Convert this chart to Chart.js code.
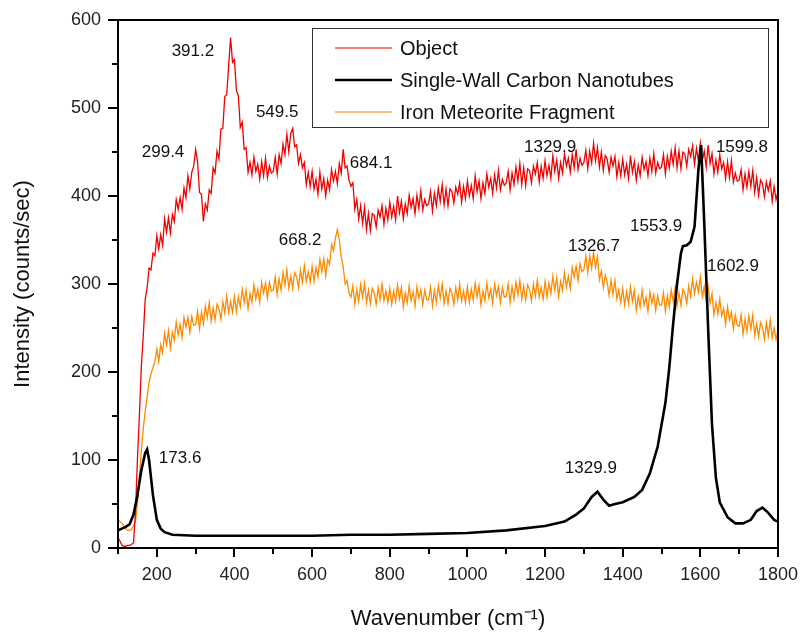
<!DOCTYPE html>
<html>
<head>
<meta charset="utf-8">
<script src="https://cdn.jsdelivr.net/npm/chart.js@4/dist/chart.umd.min.js"></script>
<style>
  html, body { margin: 0; padding: 0; background: #fff; }
  #wrap { width: 804px; height: 636px; }
</style>
</head>
<body>
<div id="wrap"><canvas id="grafica" width="804" height="636"></canvas></div>
<script>
const gridStart = 100;
const gridStep = 5;

const objectValues = [
  12, 8, 3, 2, 2, 3, 3, 4, 6, 40, 100, 150, 205, 240, 282, 296, 318, 316, 335, 332,
  355, 340, 356, 344, 374, 359, 375, 358, 379, 371, 396, 385, 398, 385, 409, 398, 423, 408, 427, 434,
  453, 438, 404, 402, 371, 391, 384, 407, 403, 432, 426, 451, 442, 476, 477, 513, 515, 548, 580, 552,
  555, 520, 514, 478, 484, 453, 455, 427, 438, 424, 444, 428, 436, 419, 439, 423, 443, 421, 434, 426,
  428, 444, 425, 447, 437, 459, 447, 470, 450, 471, 477, 456, 458, 437, 447, 432, 438, 413, 427, 411,
  428, 408, 419, 402, 427, 408, 420, 400, 418, 407, 430, 417, 428, 414, 437, 426, 453, 432, 434, 418,
  411, 415, 385, 396, 374, 389, 369, 387, 362, 380, 361, 380, 378, 365, 384, 376, 389, 368, 386, 373,
  393, 376, 388, 373, 400, 381, 394, 374, 391, 380, 401, 387, 397, 380, 401, 386, 406, 384, 396, 389,
  391, 405, 383, 403, 389, 409, 394, 413, 390, 408, 389, 408, 405, 392, 410, 402, 415, 393, 411, 397,
  417, 400, 412, 397, 423, 405, 417, 397, 415, 403, 425, 410, 420, 403, 424, 409, 429, 407, 419, 412,
  415, 428, 407, 426, 413, 433, 417, 437, 413, 432, 412, 431, 429, 415, 434, 425, 438, 416, 434, 420,
  440, 423, 435, 420, 446, 428, 441, 420, 438, 426, 448, 434, 443, 427, 447, 432, 453, 430, 443, 435,
  438, 452, 431, 451, 438, 460, 440, 455, 433, 450, 429, 446, 442, 427, 444, 434, 445, 422, 438, 423,
  442, 424, 436, 420, 446, 427, 439, 418, 435, 423, 444, 430, 439, 423, 443, 428, 448, 426, 438, 431,
  433, 447, 425, 445, 432, 451, 436, 455, 432, 451, 431, 450, 448, 434, 453, 445, 457, 436, 454, 440,
  460, 440, 451, 433, 458, 437, 448, 425, 441, 427, 447, 431, 438, 420, 439, 421, 440, 416, 426, 417,
  418, 430, 407, 425, 410, 428, 411, 429, 404, 421, 401, 418, 414, 399, 416, 406, 417, 394, 411, 396,
  405
];

const ironValues = [
  32, 30, 28, 25, 22, 20, 20, 21, 26, 30, 50, 80, 110, 135, 155, 172, 188, 198, 205, 212,
  226, 212, 231, 222, 244, 231, 247, 227, 245, 236, 257, 242, 254, 239, 262, 251, 262, 245, 263, 253,
  254, 269, 249, 268, 255, 275, 262, 279, 258, 273, 259, 277, 272, 260, 280, 267, 286, 268, 280, 268,
  286, 269, 285, 274, 294, 279, 293, 272, 289, 279, 299, 283, 294, 279, 302, 290, 301, 284, 302, 292,
  293, 308, 288, 306, 293, 313, 299, 316, 295, 309, 295, 313, 308, 296, 316, 302, 321, 303, 314, 302,
  320, 303, 319, 308, 328, 314, 329, 309, 328, 322, 345, 338, 352, 362, 350, 330, 320, 300, 304, 290,
  285, 298, 277, 294, 280, 299, 285, 301, 279, 293, 278, 295, 290, 277, 296, 282, 300, 281, 292, 279,
  295, 277, 292, 280, 299, 283, 296, 274, 290, 279, 298, 281, 291, 275, 297, 284, 294, 276, 293, 282,
  282, 296, 275, 293, 279, 298, 284, 300, 278, 292, 278, 295, 290, 277, 296, 282, 300, 281, 292, 279,
  297, 279, 294, 282, 301, 285, 298, 276, 292, 281, 301, 284, 294, 278, 300, 287, 297, 279, 296, 285,
  286, 300, 279, 297, 283, 302, 288, 304, 283, 297, 282, 299, 294, 281, 300, 286, 304, 285, 296, 283,
  303, 285, 301, 289, 309, 293, 307, 286, 303, 293, 313, 297, 309, 295, 319, 308, 320, 304, 323, 314,
  316, 332, 313, 332, 318, 336, 319, 331, 305, 315, 296, 310, 302, 287, 304, 288, 304, 283, 293, 279,
  295, 276, 291, 278, 297, 280, 293, 270, 286, 274, 293, 276, 285, 269, 291, 278, 288, 270, 287, 276,
  276, 290, 269, 287, 274, 293, 280, 296, 275, 290, 276, 294, 290, 278, 298, 286, 306, 289, 302, 291,
  308, 286, 297, 281, 297, 278, 289, 265, 279, 266, 283, 264, 272, 254, 274, 259, 268, 249, 265, 253,
  252, 265, 243, 260, 246, 264, 249, 265, 242, 255, 240, 256, 251, 237, 256, 241, 259, 239, 250, 237,
  248
];

const swcntX = [100, 110, 120, 130, 140, 150, 160, 170, 175, 180, 190, 200, 210, 220, 240,
  300, 400, 500, 600, 700, 800, 900, 1000, 1100, 1200, 1250, 1280, 1300, 1320, 1335,
  1350, 1365, 1380, 1400, 1430, 1450, 1470, 1490, 1510, 1520, 1530, 1540, 1550, 1555,
  1565, 1575, 1585, 1595, 1602, 1610, 1620, 1630, 1640, 1650, 1670, 1690, 1710, 1730,
  1745, 1760, 1775, 1790, 1800];
const swcntValues = [20, 22, 24, 27, 38, 60, 88, 108, 112, 100, 60, 32, 22, 18, 15,
  14, 14, 14, 14, 15, 15, 16, 17, 20, 25, 30, 38, 45, 58, 64,
  55, 48, 50, 52, 58, 66, 85, 115, 165, 205, 255, 300, 335, 343,
  344, 348, 365, 430, 458, 370, 250, 140, 80, 52, 35, 28, 28, 32,
  42, 46, 40, 32, 30];

const seriesNames = ['Object', 'Single-Wall Carbon Nanotubes', 'Iron Meteorite Fragment'];
const seriesColors = ['#f00000', '#000000', '#ff8a00'];

// peak labels: [text, x, y]
const peakLabels = [
  ['391.2', 293, 564], ['299.4', 216, 450], ['549.5', 510, 495], ['684.1', 752, 437],
  ['1329.9', 1213, 455], ['1599.8', 1707, 455], ['668.2', 569, 350], ['1326.7', 1326, 343],
  ['1553.9', 1486, 366], ['1602.9', 1684, 320], ['173.6', 260, 102], ['1329.9', 1318, 91]
];

function toPoints(xs, ys) {
  return ys.map(function (v, i) { return { x: xs[i], y: v }; });
}
const gridX = objectValues.map(function (v, i) { return gridStart + i * gridStep; });

const FONT = "'Liberation Sans', Arial, sans-serif";

const frameAndLabels = {
  id: 'frameAndLabels',
  afterDatasetsDraw: function (chart) {
    const ctx = chart.ctx;
    const a = chart.chartArea;
    const sx = chart.scales.x, sy = chart.scales.y;
    ctx.save();
    // box round the plot
    ctx.strokeStyle = '#000';
    ctx.lineWidth = 2;
    ctx.strokeRect(a.left, a.top, a.right - a.left, a.bottom - a.top);

    // outward tick marks, long on labelled values
    ctx.beginPath();
    for (let v = 100; v <= 1800; v += 100) {
      const px = Math.round(sx.getPixelForValue(v));
      ctx.moveTo(px, a.bottom);
      ctx.lineTo(px, a.bottom + (v % 200 === 0 ? 9 : 6));
    }
    for (let v = 0; v <= 600; v += 50) {
      const py = Math.round(sy.getPixelForValue(v));
      ctx.moveTo(a.left, py);
      ctx.lineTo(a.left - (v % 100 === 0 ? 10 : 6), py);
    }
    ctx.stroke();

    // peak labels
    ctx.fillStyle = '#111';
    ctx.font = '17px ' + FONT;
    ctx.textAlign = 'center';
    ctx.textBaseline = 'middle';
    peakLabels.forEach(function (p) {
      ctx.fillText(p[0], sx.getPixelForValue(p[1]), sy.getPixelForValue(p[2]));
    });

    // legend box
    const lx = 312, ly = 28, lw = 456, lh = 99;
    ctx.fillStyle = '#fff';
    ctx.fillRect(lx, ly, lw, lh);
    ctx.strokeStyle = '#333';
    ctx.lineWidth = 1;
    ctx.strokeRect(lx + 0.5, ly + 0.5, lw, lh);
    ctx.font = '20px ' + FONT;
    ctx.textAlign = 'left';
    seriesNames.forEach(function (name, i) {
      const yy = ly + 20 + i * 32;
      ctx.strokeStyle = seriesColors[i];
      ctx.lineWidth = i === 1 ? 2.5 : 1;
      ctx.beginPath();
      ctx.moveTo(lx + 23, yy);
      ctx.lineTo(lx + 80, yy);
      ctx.stroke();
      ctx.fillStyle = '#111';
      ctx.fillText(name, lx + 88, yy + 1);
    });
    ctx.restore();
  }
};

new Chart(document.getElementById('grafica').getContext('2d'), {
  type: 'line',
  data: {
    datasets: [
      {
        label: seriesNames[1],
        data: toPoints(swcntX, swcntValues),
        borderColor: seriesColors[1],
        borderWidth: 2.6,
        order: 0
      },
      {
        label: seriesNames[0],
        data: toPoints(gridX, objectValues),
        borderColor: seriesColors[0],
        borderWidth: 1.3,
        order: 1
      },
      {
        label: seriesNames[2],
        data: toPoints(gridX, ironValues),
        borderColor: seriesColors[2],
        borderWidth: 1.3,
        order: 2
      }
    ]
  },
  options: {
    responsive: false,
    animation: false,
    parsing: false,
    layout: { padding: { top: 20, right: 26, left: 0, bottom: 0 } },
    elements: { point: { radius: 0 }, line: { tension: 0 } },
    plugins: {
      legend: { display: false },
      tooltip: { enabled: false }
    },
    scales: {
      x: {
        type: 'linear',
        min: 100,
        max: 1800,
        afterFit: function (s) { s.height = 88; s.paddingLeft = 0; s.paddingRight = 0; },
        border: { display: true, color: '#000', width: 2 },
        grid: { drawOnChartArea: false, drawTicks: false },
        ticks: {
          stepSize: 100,
          color: '#222',
          font: { family: FONT, size: 18 },
          maxRotation: 0,
          autoSkip: false,
          padding: 16,
          callback: function (v) { return v % 200 === 0 ? v : ''; }
        },
        title: {
          display: true,
          text: 'Wavenumber (cm⁻¹)',
          color: '#111',
          font: { family: FONT, size: 22 },
          padding: { top: 10 }
        }
      },
      y: {
        min: 0,
        max: 600,
        afterFit: function (s) { s.width = 118; s.paddingTop = 0; s.paddingBottom = 0; },
        border: { display: true, color: '#000', width: 2 },
        grid: { drawOnChartArea: false, drawTicks: false },
        ticks: {
          stepSize: 50,
          color: '#222',
          font: { family: FONT, size: 18 },
          autoSkip: false,
          padding: 17,
          callback: function (v) { return v % 100 === 0 ? v : ''; }
        },
        title: {
          display: true,
          text: 'Intensity (counts/sec)',
          color: '#111',
          font: { family: FONT, size: 22 },
          padding: { top: 10, bottom: 0 }
        }
      }
    }
  },
  plugins: [frameAndLabels]
});
</script>
</body>
</html>
